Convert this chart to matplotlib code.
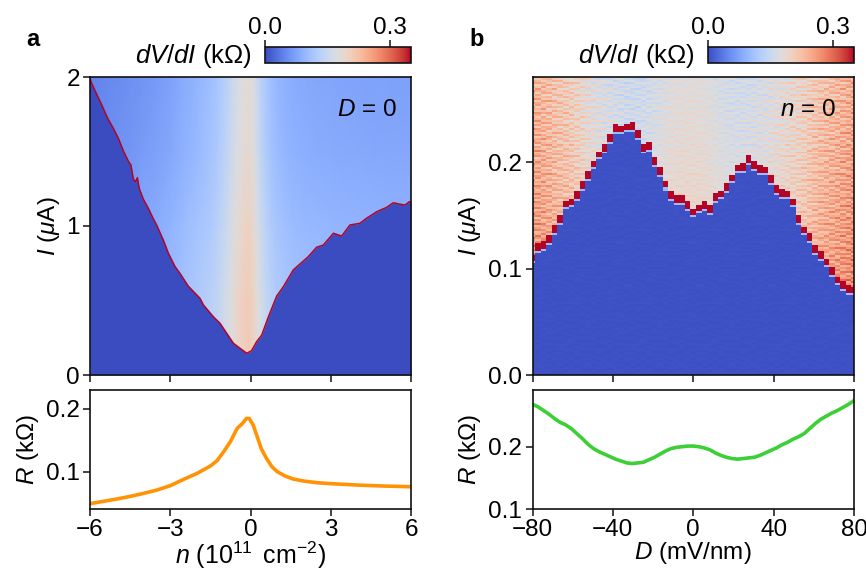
#!/usr/bin/env python3

import numpy as np
import matplotlib
matplotlib.use("Agg")
import matplotlib.pyplot as plt
from matplotlib.cm import ScalarMappable
from matplotlib.colors import Normalize

plt.rcParams['font.family'] = ['Liberation Sans', 'DejaVu Sans']
plt.rcParams['font.size'] = 17.5
plt.rcParams['mathtext.fontset'] = 'custom'
plt.rcParams['mathtext.rm'] = 'Liberation Sans'
plt.rcParams['mathtext.it'] = 'Liberation Sans:italic'
plt.rcParams['mathtext.bf'] = 'Liberation Sans:bold'

# panel a, lower trace
a_n = [-6, -5, -4.5, -4, -3.5, -3, -2.5, -2, -1.5, -1.25, -1, -0.75, -0.5, -0.3, -0.15, -0.05, 0.1, 0.25,
       0.4, 0.6, 0.8, 1, 1.3, 1.6, 2, 2.5, 3, 4, 5, 6]
a_R = [0.049, 0.0564, 0.0606, 0.0654, 0.0707, 0.0777, 0.0878, 0.0973, 0.109, 0.1176, 0.132, 0.148, 0.169, 0.177,
       0.185, 0.185, 0.1745, 0.156, 0.137, 0.121, 0.108, 0.1, 0.093, 0.0883, 0.085, 0.0824,
       0.0809, 0.0787, 0.0771, 0.076]

# panel a, switching current
a_ic_n = [-6, -5.94, -5.75, -5.56, -5.34, -5.13, -4.94, -4.75, -4.57, -4.47, -4.38, -4.29, -4.23,
          -4.16, -4.01, -3.82, -3.63, -3.51, -3.26, -3.07, -2.82, -2.64, -2.33, -1.89, -1.76,
          -1.39, -1.14, -0.89, -0.64, -0.39, -0.14, 0.04, 0.23, 0.42, 0.67, 0.98, 1.23, 1.6,
          1.85, 2.16, 2.47, 2.72, 3.1, 3.28, 3.41, 3.72, 4.09, 4.34, 4.72, 5.09, 5.34, 5.59,
          5.78, 5.94, 6]
a_ic = [1.99, 1.958, 1.884, 1.812, 1.723, 1.656, 1.589, 1.503, 1.436, 1.409, 1.315, 1.297, 1.324,
        1.253, 1.181, 1.119, 1.047, 1.007, 0.906, 0.817, 0.727, 0.683, 0.597, 0.515, 0.47,
        0.391, 0.347, 0.28, 0.213, 0.179, 0.146, 0.163, 0.224, 0.268, 0.391, 0.53, 0.593, 0.705,
        0.745, 0.794, 0.857, 0.872, 0.951, 0.94, 0.933, 1.007, 1.018, 1.052, 1.096, 1.125, 1.156,
        1.146, 1.141, 1.163, 1.16]

# dV/dI above the transition relative to R, by current
a_levels = [0, 0.5, 1, 1.5, 2]
a_level_offset = [0.025, 0.024, 0.014, 0.002, -0.004]

# panel b, one value per measured D column
b_D = np.linspace(-80, 80, 59)
b_R = [0.268, 0.264, 0.258, 0.252, 0.245, 0.239, 0.235, 0.229, 0.221, 0.213, 0.204, 0.197, 0.192,
       0.188, 0.184, 0.180, 0.177, 0.174, 0.173, 0.174, 0.175, 0.179, 0.183, 0.188, 0.193, 0.197,
       0.199, 0.200, 0.201, 0.201, 0.200, 0.198, 0.195, 0.190, 0.186, 0.183, 0.181, 0.180, 0.181,
       0.182, 0.183, 0.186, 0.190, 0.194, 0.198, 0.203, 0.207, 0.212, 0.216, 0.221, 0.229, 0.237,
       0.244, 0.249, 0.254, 0.258, 0.263, 0.268, 0.274]
b_ic = [0.110, 0.121, 0.1226, 0.128, 0.1376, 0.1467, 0.1607, 0.1626, 0.1695, 0.178, 0.1876, 0.198,
        0.2073, 0.2132, 0.2233, 0.2323, 0.2314, 0.2336, 0.2339, 0.2273, 0.2142, 0.2155, 0.2001,
        0.1911, 0.1789, 0.1695, 0.1654, 0.1654, 0.1598, 0.1529, 0.1569, 0.1601, 0.1557, 0.167,
        0.1701, 0.1761, 0.1851, 0.1942, 0.1945, 0.2026, 0.1973, 0.1932, 0.1923, 0.1841, 0.1751,
        0.1714, 0.1698, 0.1623, 0.147, 0.136, 0.1295, 0.1189, 0.1126, 0.1067, 0.0978, 0.0898,
        0.0847, 0.0816, 0.080]
b_levels = [0, 0.1, 0.2, 0.28]
b_level_scale = [1.0, 1.0, 0.93, 0.88]

# rough texture of the b map: estimated stripe strengths, not measured cell values
b_stripes = [0.012, -0.02, 0.03, -0.006, 0.018, -0.028, 0.006, 0.034, -0.014, -0.03, 0.022, 0.002,
             -0.018, 0.04, -0.008, 0.014, -0.036, 0.026, -0.002, 0.01, -0.024, 0.03, -0.012, 0.004,
             0.02, -0.032, 0.016, -0.01, 0.036, -0.004, -0.022, 0.008, 0.028, -0.016, 0.0, -0.026, 0.024]
b_col_shift = [0, 11, 5, 23, 17, 2, 29, 8, 14, 31, 20, 26, 4]

a_xticks = [-6, -3, 0, 3, 6]
b_xticks = [-80, -40, 0, 40, 80]
cbar_ticks = [0.0, 0.3]

W, H = 866, 570
cmap = plt.get_cmap('coolwarm')
norm = Normalize(vmin=0, vmax=0.35)
ink = '#111111'


def px_axes(fig, x0, y0, x1, y1):
    return fig.add_axes([x0 / W, 1 - y1 / H, (x1 - x0) / W, (y1 - y0) / H])


def style(ax):
    ax.tick_params(length=4.8, width=1.1, color=ink, pad=2.5, labelsize=17.5)
    for s in ax.spines.values():
        s.set_linewidth(1.2)
        s.set_color(ink)


def add_cbar(fig, x0, x1, label_x):
    cax = px_axes(fig, x0, 47, x1, 62.5)
    cb = fig.colorbar(ScalarMappable(norm=norm, cmap=cmap), cax=cax, orientation='horizontal')
    cb.set_ticks(cbar_ticks)
    cb.ax.xaxis.set_ticks_position('top')
    cb.ax.set_xticklabels(['0.0', '0.3'])
    cb.ax.tick_params(length=4.8, width=1.1, color=ink, pad=1, labelsize=17.5)
    cb.outline.set_linewidth(1.2)
    cb.outline.set_edgecolor(ink)
    fig.text(label_x / W, 1 - 56 / H, r'$dV/dI$ (k$\Omega$)', ha='right', va='center', fontsize=18.5)


fig = plt.figure(figsize=(W / 100, H / 100), dpi=100)

# --- panel a
ax = px_axes(fig, 90, 77, 411, 375)
Z = np.array([[r + off for r in a_R] for off in a_level_offset])
ax.pcolormesh(a_n, a_levels, Z, shading='gouraud', cmap=cmap, norm=norm)
ax.fill_between(a_ic_n, 0, a_ic, color=cmap(0.0), lw=0)
ax.plot(a_ic_n, a_ic, color=cmap(1.0), lw=1.1)
ax.set_xlim(-6, 6)
ax.set_ylim(0, 2)
ax.set_xticks(a_xticks)
ax.set_xticklabels([])
ax.set_yticks([0, 1, 2])
ax.set_ylabel(r'$I$ ($\mu$A)', fontsize=17.5)
ax.yaxis.set_label_coords((62 - 90) / 321, 0.5)
ax.text((397 - 90) / 321, 1 - 33 / 298, r'$D$ = 0', transform=ax.transAxes, ha='right', va='center', fontsize=17.5)
style(ax)

ax = px_axes(fig, 90, 390, 411, 509)
ax.plot(a_n, a_R, color='#ff9305', lw=2.6)
ax.set_xlim(-6, 6)
ax.set_ylim(0.0405, 0.2303)
ax.set_xticks(a_xticks)
ax.set_yticks([0.1, 0.2])
ax.set_xlabel(r'$n$ ($10^{11}\,$ cm$^{-2}$)', fontsize=18, labelpad=-1)
ax.set_ylabel(r'$R$ (k$\Omega$)', fontsize=17.5)
ax.yaxis.set_label_coords((41 - 90) / 321, 0.5)
style(ax)

add_cbar(fig, 265, 411, 252)
fig.text(26 / W, 1 - 39 / H, 'a', fontweight='bold', fontsize=17, va='center')

# --- panel b
ax = px_axes(fig, 532.5, 77, 854, 375)
b_I = np.linspace(0, 0.28, 151)
row_scale = np.interp(b_I, b_levels, b_level_scale)
Zb = np.zeros((len(b_I), len(b_D)))
for j in range(len(b_D)):
    idx = (np.arange(len(b_I)) + b_col_shift[j % len(b_col_shift)]) % len(b_stripes)
    stripe = np.array(b_stripes)[idx]
    col = b_R[j] * row_scale + 0.7 * stripe * (0.55 + abs(b_D[j]) / 80)
    col[b_I < b_ic[j]] = 0.003 + np.abs(stripe[b_I < b_ic[j]]) * 0.08
    near = np.abs(b_I - b_ic[j])
    col[near < 0.0034] = 0.35
    low = (b_I < b_ic[j] - 0.0034) & (b_I > b_ic[j] - 0.0053)
    col[low] = 0.1
    Zb[:, j] = col
ax.pcolormesh(b_D, b_I, Zb, shading='nearest', cmap=cmap, norm=norm)
ax.set_xlim(-80, 80)
ax.set_ylim(0, 0.28)
ax.set_xticks(b_xticks)
ax.set_xticklabels([])
ax.set_yticks([0, 0.1, 0.2])
ax.set_yticklabels(['0.0', '0.1', '0.2'])
ax.set_ylabel(r'$I$ ($\mu$A)', fontsize=17.5)
ax.yaxis.set_label_coords((483 - 532.5) / 321.5, 0.5)
ax.text((836 - 532.5) / 321.5, 1 - 33 / 298, r'$n$ = 0', transform=ax.transAxes, ha='right', va='center', fontsize=17.5)
style(ax)

ax = px_axes(fig, 532.5, 390, 854, 509)
ax.plot(b_D, b_R, color='#3ccf36', lw=2.6)
ax.set_xlim(-80, 80)
ax.set_ylim(0.1, 0.291)
ax.set_xticks(b_xticks)
ax.set_yticks([0.1, 0.2])
ax.set_xlabel(r'$D$ (mV/nm)', fontsize=17.5, labelpad=-1)
ax.set_ylabel(r'$R$ (k$\Omega$)', fontsize=17.5)
ax.yaxis.set_label_coords((483 - 532.5) / 321.5, 0.5)
style(ax)

add_cbar(fig, 707.5, 854, 695)
fig.text(469 / W, 1 - 39 / H, 'b', fontweight='bold', fontsize=17, va='center')

fig.savefig('out.png', dpi=100)
